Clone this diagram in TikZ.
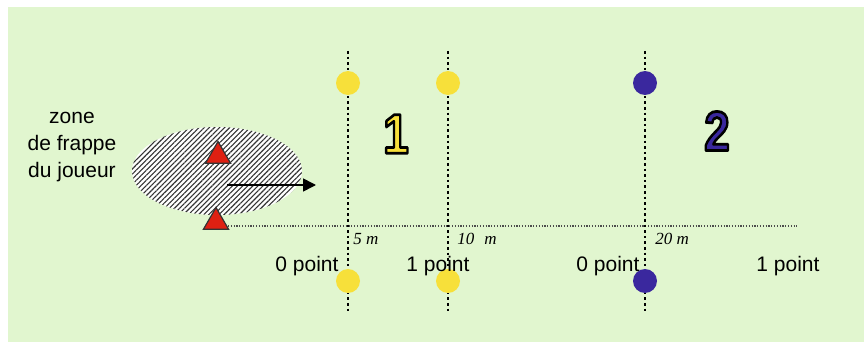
\documentclass[tikz,border=0pt]{standalone}
\usepackage{fontspec}
\setsansfont{Liberation Sans}
\newfontfamily\markfont{Liberation Serif}
\usetikzlibrary{arrows.meta,positioning,shapes.geometric,patterns.meta}
\definecolor{field}{RGB}{225,246,207}
\definecolor{markYellow}{RGB}{247,224,58}
\definecolor{markBlue}{RGB}{58,40,158}
\definecolor{coneRed}{RGB}{222,32,18}
\newcommand{\outlined}[1]{\special{pdf:literal 0 0 0 RG 1.4 w 1 j 2 Tr}#1\special{pdf:literal 0 Tr}}

\begin{document}
\begin{tikzpicture}[
    x=0.5pt, y=-0.5pt,
    font=\sffamily,
    lbl/.style={font=\sffamily\fontsize{10.5}{13.5}\selectfont, inner sep=0pt, anchor=base},
    dist/.style={font=\markfont\itshape\fontsize{8.5}{9}\selectfont, inner sep=0pt, anchor=base west},
    ball/.style={circle, minimum size=12pt, inner sep=0pt},
    cone/.style={regular polygon, regular polygon sides=3, fill=coneRed,
      draw=black!80, line width=0.6pt, minimum size=14.5pt, inner sep=0pt},
    zone/.style={ellipse, minimum width=85pt, minimum height=44pt, inner sep=0pt,
      preaction={fill=white},
      pattern={Lines[angle=45, distance=1.8pt, line width=0.55pt]}, pattern color=black!80},
    markline/.style={draw=black, line width=1.3pt, dash pattern=on 1.3pt off 1.5pt},
    groundline/.style={draw=black!70, line width=1pt, dash pattern=on 0.6pt off 0.8pt},
    digit/.style={font=\sffamily\bfseries\fontsize{28}{28}\selectfont, inner sep=0pt, xscale=0.82},
    arrow/.style={-{Triangle[length=6.5pt, width=6.5pt]}, line width=0.8pt, black}
  ]
  \useasboundingbox (0,0) rectangle (864,342);
  \fill[field] (8,7) rectangle (864,342);

  % hitting zone
  \node[zone] (hit) at (217,171) {};
  \node[lbl, anchor=center, align=center] (hitlabel) at (72,147) {zone\\de frappe\\du joueur};

  % ground line
  \coordinate (ground0) at (228,226);
  \coordinate (ground1) at (797,226);
  \draw[groundline] (ground0) -- (ground1);

  % scoring lines
  \foreach \n/\x/\c in {m5/348/markYellow, m10/448/markYellow, m20/645/markBlue} {
    \coordinate (\n top) at (\x,51);
    \coordinate (\n bot) at (\x,311);
    \draw[markline] (\n top) -- (\n bot);
    \node[ball, fill=\c] (\n up) at (\x,83) {};
    \node[ball, fill=\c] (\n down) at (\x,281) {};
  }

  \node[cone] (cone1) at (218,156) {};
  \node[cone] (cone2) at (216,222) {};

  \coordinate (shot0) at (227,185);
  \coordinate (shot1) at (316,185);
  \draw[arrow] (shot0) -- (shot1);

  \node[digit, text=markYellow] (one) at (396,134) {\outlined{1}};
  \node[digit, text=markBlue] (two) at (717,131) {\outlined{2}};

  \node[dist] (d5) at (353,245) {5 m};
  \node[dist] (d10) at (457,245) {10\,\, m};
  \node[dist] (d20) at (655,245) {20 m};

  \foreach \n/\x/\t in {p1/307/0 point, p2/438/1 point, p3/608/0 point, p4/788/1 point}
    \node[lbl] (\n) at (\x,272) {\t};
\end{tikzpicture}
\end{document}
